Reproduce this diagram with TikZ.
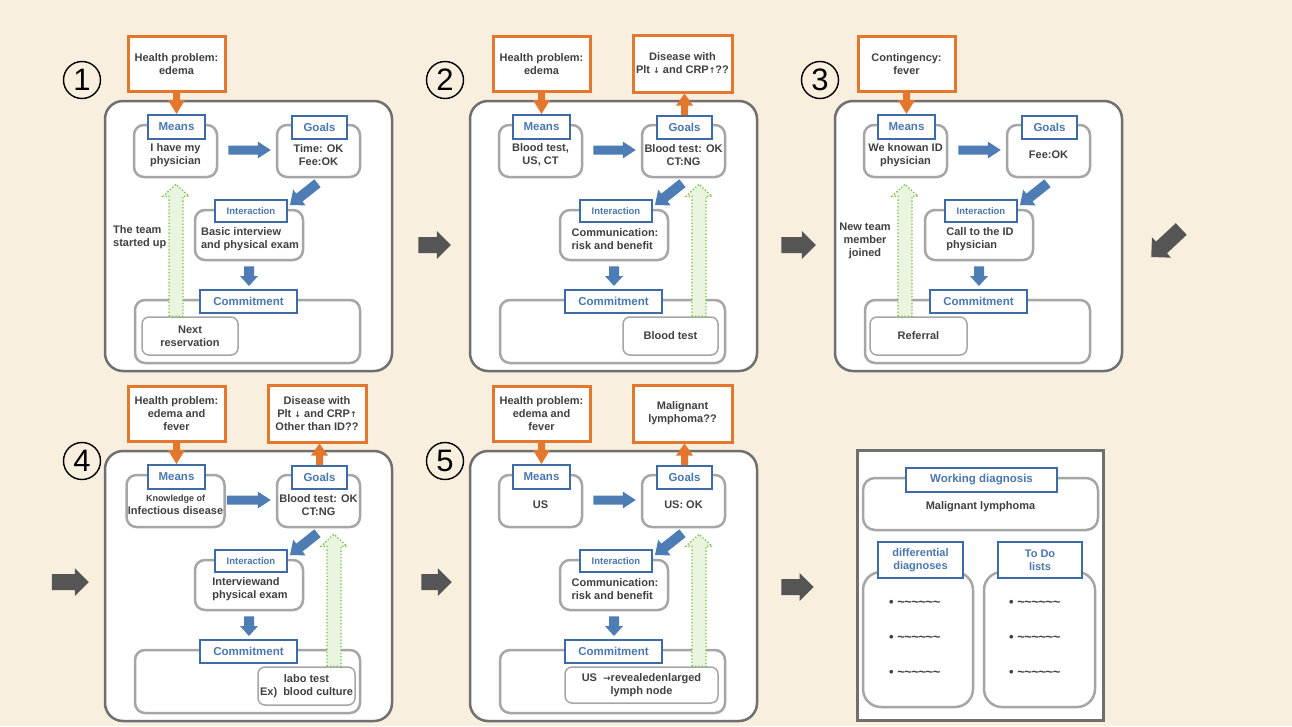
\documentclass[tikz,border=0pt]{standalone}
\usepackage{fontspec}
\setmainfont{Liberation Sans}
\newfontfamily\symf{DejaVu Sans}
\usetikzlibrary{calc}
\definecolor{bgc}{HTML}{F8EFDF}
\definecolor{panelc}{HTML}{6F6F6F}
\definecolor{innerc}{HTML}{A6A6A6}
\definecolor{labc}{HTML}{3D6BA7}
\definecolor{labtext}{HTML}{4A77B0}
\definecolor{txtc}{HTML}{404040}
\definecolor{orangec}{HTML}{E3772E}
\definecolor{arrblue}{HTML}{4E7DB5}
\definecolor{greenc}{HTML}{78BE45}
\definecolor{greenfill}{HTML}{EAF5DF}
\definecolor{grayarrc}{HTML}{555555}
\newcommand\bodyfont{\fontsize{11}{13}\selectfont\bfseries}
\newcommand\labfont{\fontsize{11.5}{13}\selectfont\bfseries}
\newcommand\intfont{\fontsize{9.5}{11}\selectfont\bfseries}
\newcommand\numfont{\fontsize{31}{31}\selectfont}
\newcommand\dnarr{{\symf\fontsize{8}{8}\selectfont ↓}}
\newcommand\uparr{{\symf\fontsize{8}{8}\selectfont ↑}}
\newcommand\rarr{{\symf\fontsize{9}{9}\selectfont →}}
\newcommand\tls{\textasciitilde\kern-0.5pt\textasciitilde\kern-0.5pt\textasciitilde\kern-0.5pt\textasciitilde\kern-0.5pt\textasciitilde\kern-0.5pt\textasciitilde}
% block arrow: style, from, to, shaft half width, head half width, head length
\newcommand\blockarrow[6]{%
  \coordinate (baA) at #2;
  \coordinate (baB) at #3;
  \coordinate (baN) at ($(baB)!#6!(baA)$);
  \path[#1] ($(baA)!#4!90:(baB)$) -- ($(baN)!#4!90:(baB)$) -- ($(baN)!#5!90:(baB)$)
    -- (baB) -- ($(baN)!#5!-90:(baB)$) -- ($(baN)!#4!-90:(baB)$) -- ($(baA)!#4!-90:(baB)$) -- cycle;
}
% panel: prefix, dx, dy, means text, goals text, interaction text, means width, problem text, gap
\newcommand\mkpanel[9]{%
\begin{scope}[shift={(#2,#3)}]
\node[panel, minimum width=287pt, minimum height=270pt] (#1o) at (248.5,236) {};
\node[prob, minimum width=97pt, minimum height=55pt] (#1p) at (176.5,64) {#8};
\node[inner, minimum width=#7pt, minimum height=52pt] (#1m) at (175.5,151) {};
\node[lab, minimum width=57pt, minimum height=24pt] (#1ml) at (176.5,127) {Means};
\node[txt] (#1mt) at (175.5,155) {#4};
\node[inner, minimum width=83pt, minimum height=52pt] (#1g) at (318.5,151) {};
\node[lab, minimum width=55pt, minimum height=23pt] (#1gl) at (319.5,127.5) {Goals};
\node[txt] (#1gt) at (318.5,155) {#5};
\node[inner, minimum width=108pt, minimum height=50pt] (#1i) at (249,235) {};
\node[lab, font=\intfont, minimum width=72pt, minimum height=22pt] (#1il) at (251,211) {Interaction};
\node[txt, align=left] (#1it) at (250,239) {#6};
\node[inner, minimum width=225pt, minimum height=63pt] (#1c) at (247.5,331.5) {};
\node[lab, minimum width=97pt, minimum height=23pt] (#1cl) at (248.5,301.5) {Commitment};
\end{scope}
\blockarrow{bluearr}{($(#1m.east)+(#9,-1)$)}{($(#1g.west)+(-5,-1)$)}{4.5pt}{8.5pt}{13pt}
\blockarrow{bluearr}{($(#1g.south)+(-1,5)$)}{($(#1il.north east)+(2,6)$)}{5pt}{10pt}{12pt}
\blockarrow{bluearr}{($(#1i.south)+(0,5)$)}{($(#1cl.north)+(0.5,-3)$)}{5pt}{9pt}{10pt}
\blockarrow{orarr}{(#1p.south)}{(#1ml.north)}{3.5pt}{8.5pt}{14pt}
}
\begin{document}
\begin{tikzpicture}[x=1pt,y=-1pt,
  panel/.style={draw=panelc, line width=2.5pt, rounded corners=18pt, fill=white},
  inner/.style={draw=innerc, line width=2.5pt, rounded corners=10pt, fill=white, inner sep=0pt},
  lab/.style={draw=labc, line width=2pt, fill=white, text=labtext, font=\labfont, inner sep=0pt, align=center},
  prob/.style={draw=orangec, line width=3pt, fill=white, text=txtc, font=\bodyfont, align=center, inner sep=0pt},
  txt/.style={text=txtc, font=\bodyfont, align=center, inner sep=0pt},
  sub/.style={draw=innerc, line width=1.5pt, rounded corners=7pt, fill=white, text=txtc, font=\bodyfont, align=center, inner sep=0pt},
  num/.style={circle, draw=black, line width=1.4pt, minimum size=37pt, inner sep=0pt, font=\numfont},
  bluearr/.style={fill=arrblue},
  orarr/.style={fill=orangec},
  grarr/.style={fill=greenfill, draw=greenc, line width=1.3pt, dotted},
  grayarr/.style={fill=grayarrc},
  bul/.style={text=txtc, font=\fontsize{13}{13}\selectfont\bfseries, inner sep=0pt, anchor=west}]
\fill[bgc] (0,0) rectangle (1292,726);

% ---------- panel 1
\mkpanel{a1}{0}{0}{I have my\\physician}{Time: OK\\Fee:OK}{Basic interview\\and physical exam}{83}{Health problem:\\edema}{10}
\node[sub, minimum width=96pt, minimum height=38pt] (a1s) at (190,336) {Next\\reservation};
\blockarrow{grarr}{($(a1s.north)+(-14,0)$)}{($(a1m.south)+(0.5,6)$)}{7pt}{13pt}{12pt}
\node[txt, anchor=west, align=left] (a1n) at (113,237) {The team\\started up};
\node[num] (n1) at (82,80) {1};

% ---------- panel 2
\mkpanel{a2}{365}{0}{Blood test,\\US, CT}{Blood test: OK\\CT:NG}{Communication:\\risk and benefit}{83}{Health problem:\\edema}{10}
\node[prob, minimum width=99pt, minimum height=57pt] (a2d) at (682.5,63.5) {Disease with\\Plt \dnarr{} and CRP\uparr??};
\blockarrow{orarr}{(a2gl.north)}{($(a2d.south)+(2,0)$)}{3.5pt}{8.5pt}{12pt}
\node[sub, minimum width=95pt, minimum height=38pt] (a2s) at (670.5,336) {Blood test};
\blockarrow{grarr}{($(a2s.north)+(28.5,0)$)}{($(a2g.south)+(15.5,6)$)}{7pt}{13pt}{12pt}
\node[num] (n2) at (445,80) {2};

% ---------- panel 3
\mkpanel{a3}{730}{0}{We knowan ID\\physician}{Fee:OK}{Call to the ID\\physician}{83}{Contingency:\\fever}{10}
\node[sub, minimum width=97pt, minimum height=38pt] (a3s) at (918.5,336) {Referral};
\blockarrow{grarr}{($(a3s.north)+(-13.5,0)$)}{($(a3m.south)+(-0.5,6)$)}{7pt}{13pt}{12pt}
\node[txt] (a3n) at (865,241) {New team\\member\\joined};
\node[num] (n3) at (820,80) {3};

% ---------- panel 4
\mkpanel{a4}{0}{350}{\fontsize{9}{11}\selectfont Knowledge of\\Infectious disease}{Blood test: OK\\CT:NG}{Interviewand\\physical exam}{98}{Health problem:\\edema and\\fever}{1}
\node[prob, minimum width=98pt, minimum height=57pt] (a4d) at (317,413.5) {Disease with\\Plt \dnarr{} and CRP\uparr\\Other than ID??};
\blockarrow{orarr}{(a4gl.north)}{($(a4d.south)+(2.5,0)$)}{3.5pt}{8.5pt}{12pt}
\node[sub, minimum width=97pt, minimum height=38pt] (a4s) at (306.5,686) {labo test\\Ex)\ \ blood culture};
\blockarrow{grarr}{($(a4s.north)+(27.5,0)$)}{($(a4g.south)+(15.5,6)$)}{7pt}{13pt}{12pt}
\node[num] (n4) at (82,461) {4};

% ---------- panel 5
\mkpanel{a5}{365}{350}{US}{US: OK}{Communication:\\risk and benefit}{83}{Health problem:\\edema and\\fever}{10}
\node[prob, minimum width=99pt, minimum height=57pt] (a5d) at (682.5,413.5) {Malignant\\lymphoma??};
\blockarrow{orarr}{(a5gl.north)}{($(a5d.south)+(2,0)$)}{3.5pt}{8.5pt}{12pt}
\node[sub, minimum width=153pt, minimum height=36pt] (a5s) at (641.5,685) {US\ \ \rarr revealedenlarged\\lymph node};
\blockarrow{grarr}{($(a5s.north)+(57.5,0)$)}{($(a5g.south)+(15.5,6)$)}{7pt}{13pt}{12pt}
\node[num] (n5) at (445,461) {5};

% ---------- panel 6
\node[draw=panelc, line width=3pt, fill=white, minimum width=246pt, minimum height=270pt, inner sep=0pt] (f) at (980,585) {};
\node[inner, rounded corners=12pt, minimum width=235pt, minimum height=52pt] (fw) at (980.5,504) {};
\node[lab, minimum width=151pt, minimum height=24pt] (fwl) at (981.5,480) {Working diagnosis};
\node[txt] (fwt) at (980.5,507) {Malignant lymphoma};
\node[inner, rounded corners=18pt, minimum width=110pt, minimum height=135pt] (fd) at (918,639.5) {};
\node[lab, font=\fontsize{11}{13}\selectfont\bfseries, minimum width=85pt, minimum height=36pt] (fdl) at (920.5,560) {differential\\diagnoses};
\node[inner, rounded corners=18pt, minimum width=111pt, minimum height=135pt] (ft) at (1039.5,639.5) {};
\node[lab, font=\fontsize{11}{13}\selectfont\bfseries, minimum width=84pt, minimum height=36pt] (ftl) at (1040,560) {To Do\\lists};
\node[bul] (fd1) at (889,603) {\textbullet\ \tls};
\node[bul] (fd2) at (889,638) {\textbullet\ \tls};
\node[bul] (fd3) at (889,673) {\textbullet\ \tls};
\node[bul] (ft1) at (1009,603) {\textbullet\ \tls};
\node[bul] (ft2) at (1009,638) {\textbullet\ \tls};
\node[bul] (ft3) at (1009,673) {\textbullet\ \tls};

% ---------- gray arrows between panels
\blockarrow{grayarr}{($(a1o.east)+(25,9)$)}{($(a2o.west)+(-18,9)$)}{8pt}{14pt}{14pt}
\blockarrow{grayarr}{($(a2o.east)+(23,9)$)}{($(a3o.west)+(-18,9)$)}{8pt}{14pt}{14pt}
\blockarrow{grayarr}{($(a3o.east)+(58,-7)$)}{($(a3o.east)+(28,21)$)}{8pt}{14pt}{14pt}
\blockarrow{grayarr}{($(a4o.west)+(-52,-4)$)}{($(a4o.west)+(-15,-4)$)}{8pt}{14pt}{14pt}
\blockarrow{grayarr}{($(a4o.east)+(28,-4)$)}{($(a5o.west)+(-17,-4)$)}{8pt}{14pt}{14pt}
\blockarrow{grayarr}{($(a5o.east)+(23,1)$)}{($(f.west)+(-42,2)$)}{8pt}{14pt}{14pt}
\end{tikzpicture}
\end{document}
